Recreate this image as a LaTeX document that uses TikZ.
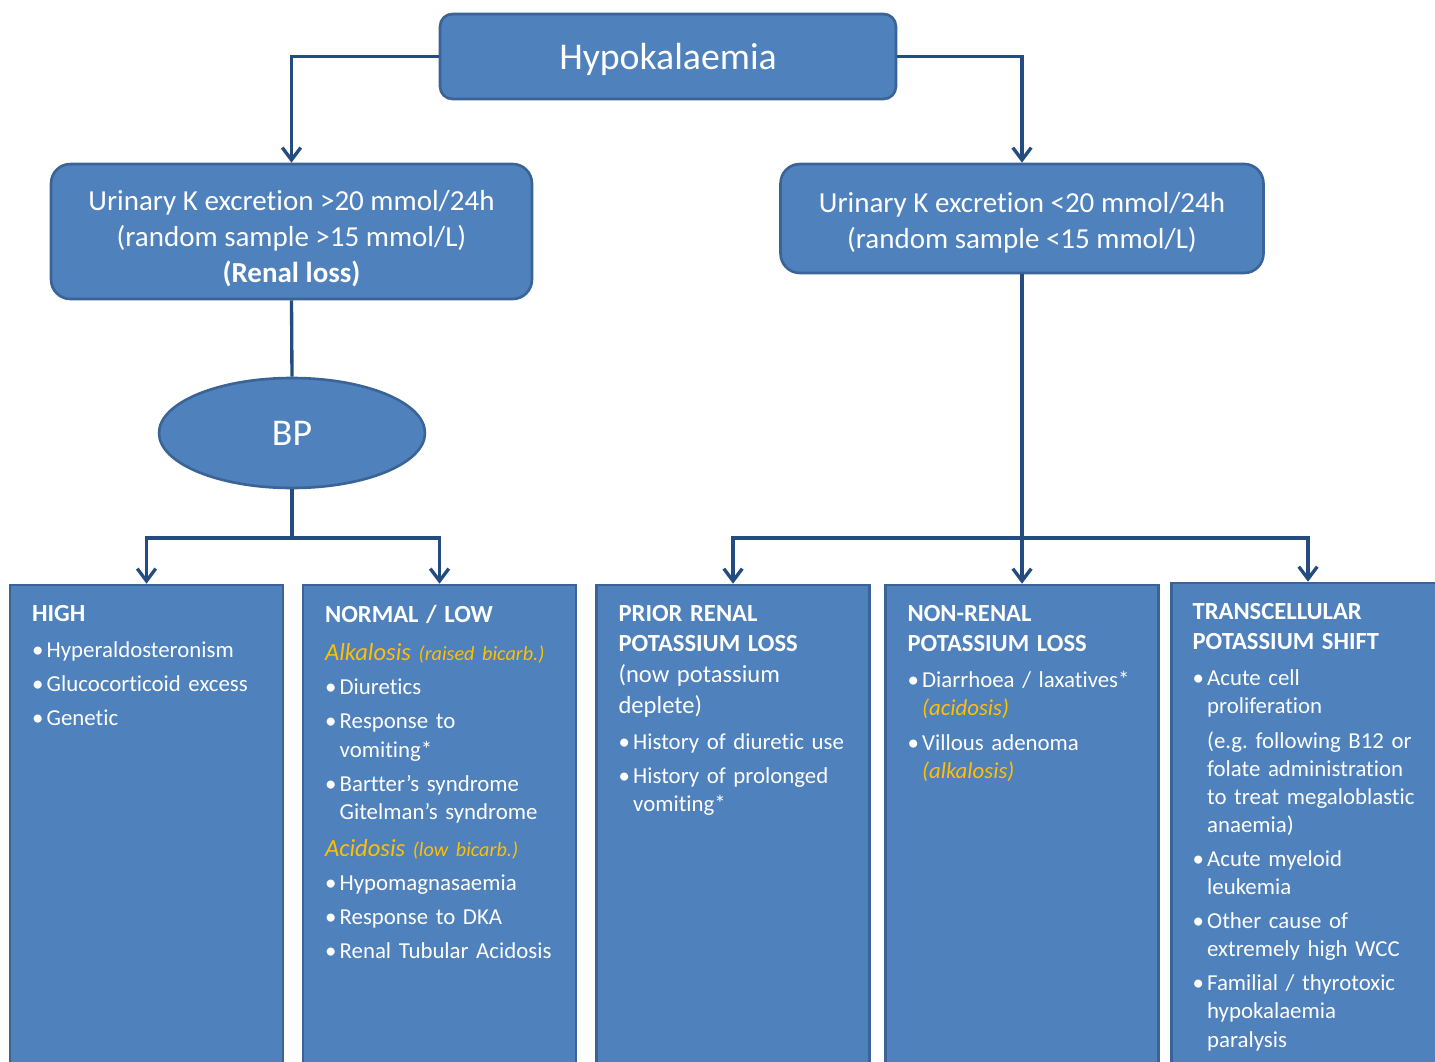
\documentclass[tikz,border=0pt]{standalone}
\usepackage{fontspec}
\setmainfont{Carlito}[Ligatures=NoCommon]
\usepackage{xcolor}
\usepackage{tikz}
\usetikzlibrary{shapes.geometric, arrows.meta, positioning, calc}

\definecolor{boxfill}{HTML}{4F81BD}
\definecolor{boxline}{HTML}{3A6496}
\definecolor{linkblue}{HTML}{244C80}
\definecolor{acidorange}{HTML}{FFC000}

\frenchspacing
\newcommand{\bul}{\par\hangindent=8.3pt\hangafter=1\noindent\makebox[8.3pt][l]{\textbullet}}
\newcommand{\indpara}{\par\hangindent=8.3pt\hangafter=0\noindent}
\newcommand{\hdr}[1]{{\fontsize{14}{17.5}\selectfont\bfseries #1\par}\vspace{1pt}}
\newcommand{\acidline}[2]{\par\noindent{\color{acidorange}\itshape\fontsize{14}{17.5}\selectfont #1 {\fontsize{11.5}{17.5}\selectfont #2}\par}}

\begin{document}
\begin{tikzpicture}[
    x=0.02cm, y=-0.02cm,
    box/.style={draw=boxline, fill=boxfill, line width=1.5pt, text=white, inner sep=0pt},
    head/.style={box, rounded corners=7pt, minimum width=9.12cm, minimum height=1.7cm},
    urine/.style={box, rounded corners=11pt, minimum height=2.7cm},
    cause/.style={box, minimum width=5.46cm, minimum height=9.9cm},
    boxtext/.style={inner sep=0pt, text=white, align=center, font=\fontsize{16.5}{20.5}\selectfont},
    txt/.style={anchor=north west, inner sep=0pt, text width=5cm, align=left, text=white,
        font=\fontsize{13}{16}\selectfont\setlength{\parskip}{3.4pt}},
    link/.style={draw=linkblue, line width=1.9pt, -{Straight Barb[length=7pt, width=10.5pt, line width=1.9pt]}},
    wire/.style={draw=linkblue, line width=1.9pt}
]
\useasboundingbox (0,0) rectangle (1435,1061);
\clip (0,0) rectangle (1435,1061);

% Top
\node[head] (hypo) at (668,56.5) {};
\node[boxtext, font=\fontsize{21.5}{26}\selectfont] (hypotext) at ($(hypo.center)+(0,3)$) {Hypokalaemia};

\node[urine, minimum width=9.62cm] (renal) at (291.5,231.5) {};
\node[boxtext] (renaltext) at ($(renal.center)+(0,7)$)
    {Urinary K excretion >20 mmol/24h\\(random sample >15 mmol/L)\\\textbf{(Renal loss)}};
\node[urine, minimum width=9.66cm, minimum height=2.18cm] (nonrenal) at (1022,218.5) {};
\node[boxtext] (nonrenaltext) at ($(nonrenal.center)+(0,4)$)
    {Urinary K excretion <20 mmol/24h\\(random sample <15 mmol/L)};

\node[box, ellipse, minimum width=5.32cm, minimum height=2.2cm, font=\fontsize{21.5}{26}\selectfont] (bp) at (292,433) {BP};

% Bottom boxes
\node[cause] (high) at (146.5,832.5) {};
\node[cause] (normal) at (439.5,832.5) {};
\node[cause] (prior) at (733,832.5) {};
\node[cause] (nonren) at (1022,832.5) {};
\node[cause] (trans) at (1308,830.5) {};

\node[txt] (hightext) at ($(high.north west)+(23,21)$) {%
\hdr{HIGH}
\bul Hyperaldosteronism
\bul Glucocorticoid excess
\bul Genetic\par};

\node[txt] (normaltext) at ($(normal.north west)+(23,21)$) {%
\hdr{NORMAL / LOW}
\acidline{Alkalosis}{(raised bicarb.)}
\bul Diuretics
\bul Response to\newline vomiting*
\bul Bartter’s syndrome\newline Gitelman’s syndrome
\acidline{Acidosis}{(low bicarb.)}
\bul Hypomagnasaemia
\bul Response to DKA
\bul Renal Tubular Acidosis\par};

\node[txt] (priortext) at ($(prior.north west)+(23,21)$) {%
{\fontsize{14}{17.5}\selectfont\textbf{PRIOR RENAL\newline POTASSIUM LOSS}\newline (now potassium\newline deplete)\par}\vspace{1pt}
\bul History of diuretic use
\bul History of prolonged\newline vomiting*\par};

\node[txt] (nonrentext) at ($(nonren.north west)+(23,21)$) {%
\hdr{NON-RENAL\newline POTASSIUM LOSS}
\bul Diarrhoea / laxatives*\newline {\color{acidorange}\itshape (acidosis)}
\bul Villous adenoma\newline {\color{acidorange}\itshape (alkalosis)}\par};

\node[txt] (transtext) at ($(trans.north west)+(22,21)$) {%
\hdr{TRANSCELLULAR\newline POTASSIUM SHIFT}
\bul Acute cell\newline proliferation
\indpara (e.g. following B12 or\newline folate administration\newline to treat megaloblastic\newline anaemia)
\bul Acute myeloid\newline leukemia
\bul Other cause of\newline extremely high WCC
\bul Familial / thyrotoxic\newline hypokalaemia\newline paralysis\par};

% Connectors
\coordinate (forkrow) at (0,538);
\coordinate (bpfork) at (bp.south |- forkrow);
\coordinate (kfork) at (nonrenal.south |- forkrow);

\draw[link] (hypo.west) -| (renal.north);
\draw[link] (hypo.east) -| (nonrenal.north);
\draw[wire] (renal.south) -- (bp.north);
\draw[wire] (bp.south) -- (bpfork);
\draw[link] (bpfork) -| (high.north);
\draw[link] (bpfork) -| (normal.north);
\draw[link] (nonrenal.south) -- (nonren.north);
\draw[link] (kfork) -| (prior.north);
\draw[link] (kfork) -| (trans.north);
\end{tikzpicture}
\end{document}
